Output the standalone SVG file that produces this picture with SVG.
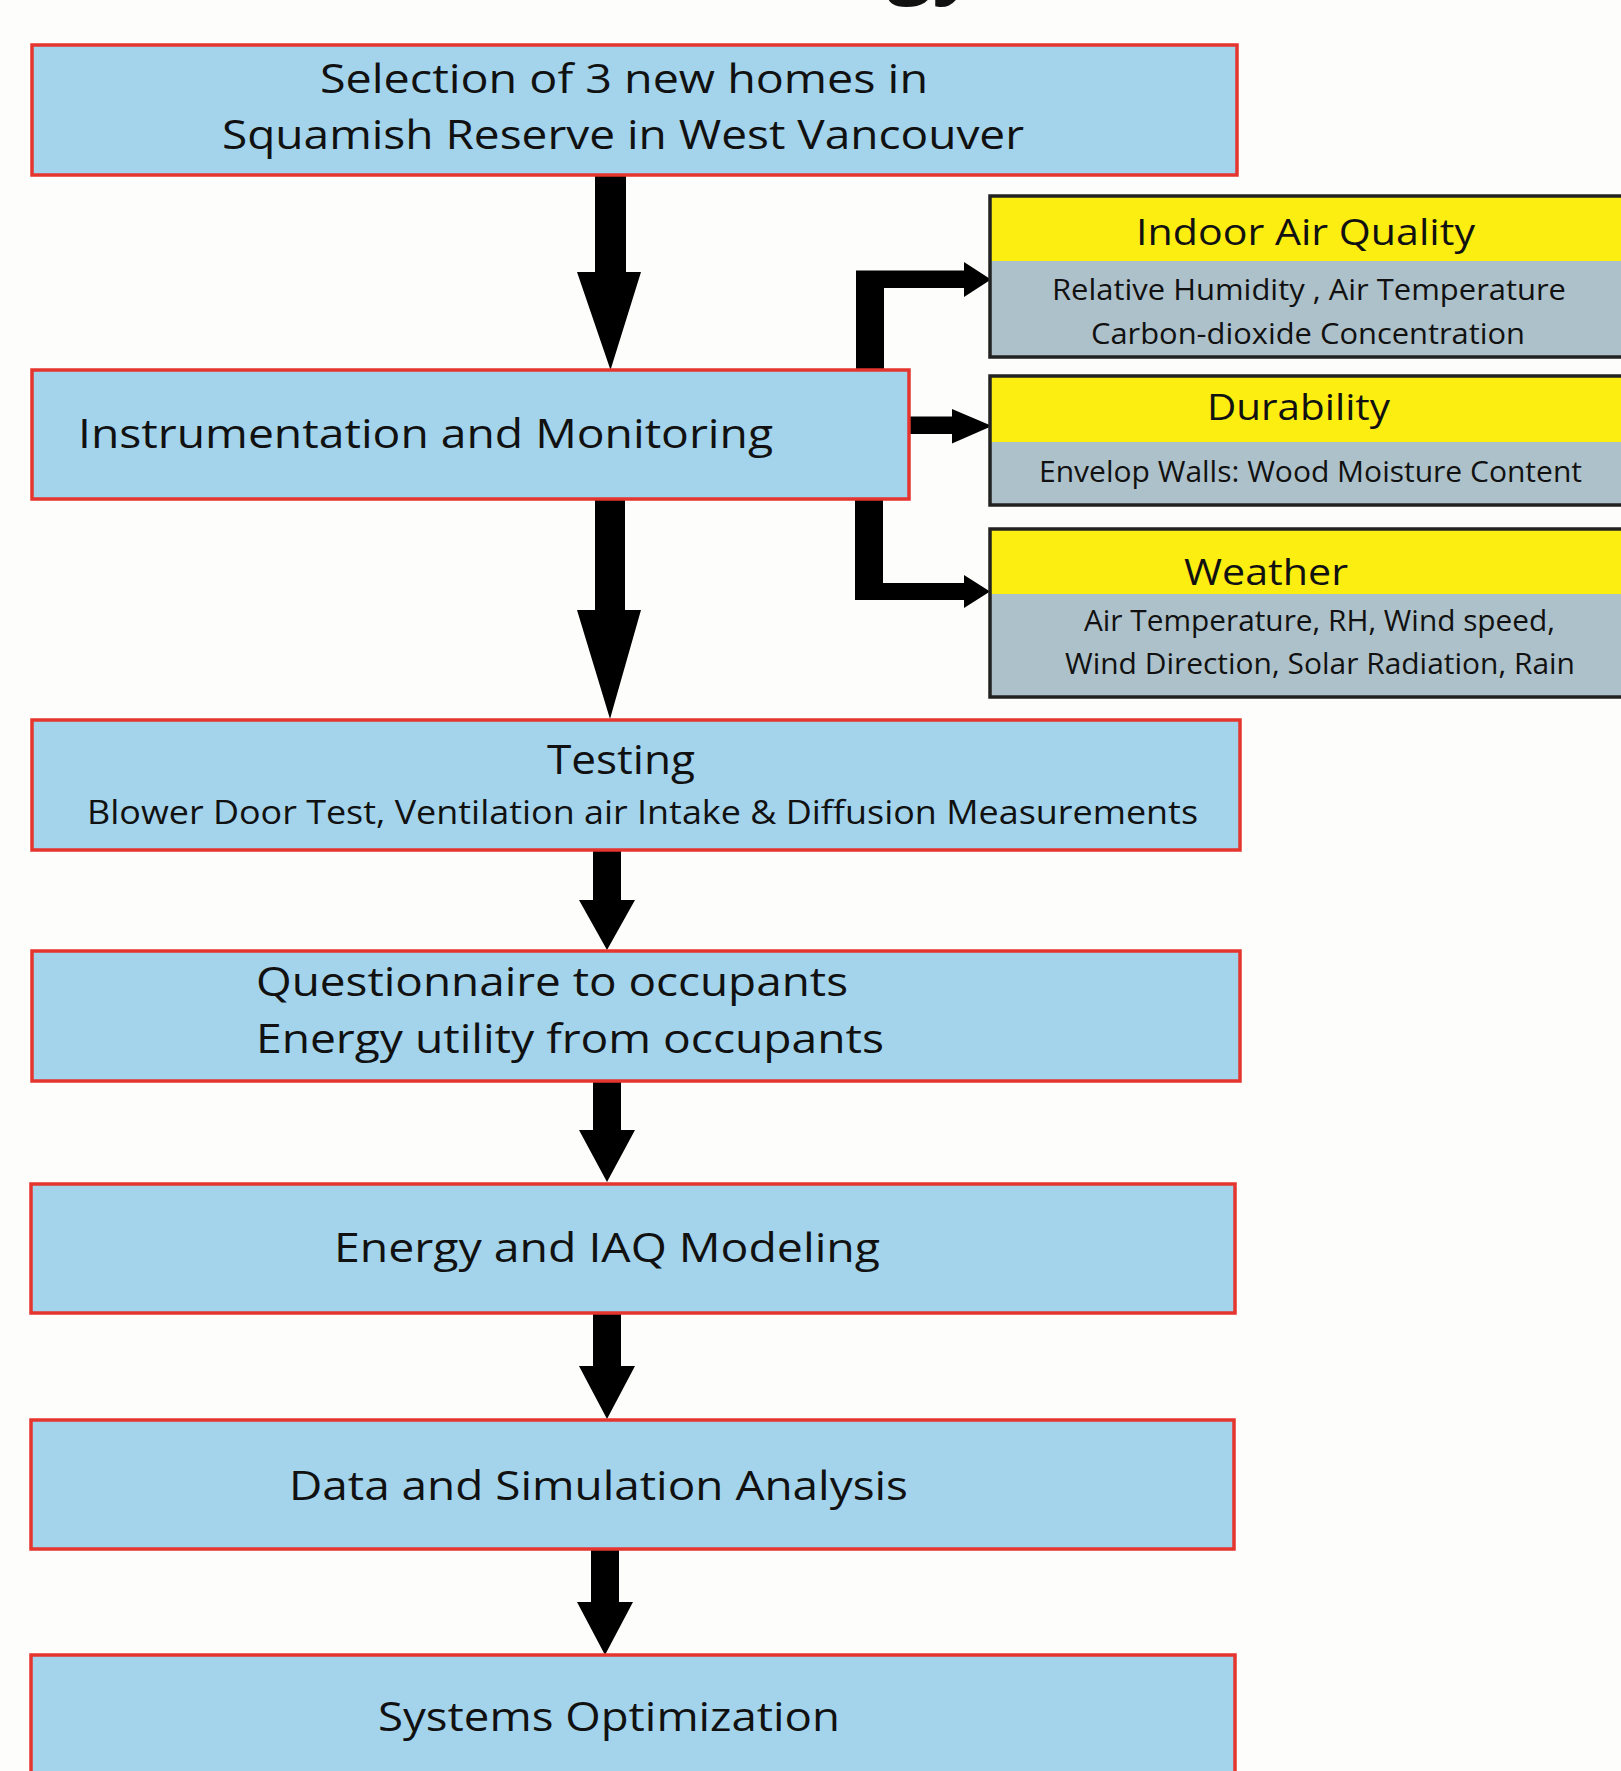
<svg xmlns="http://www.w3.org/2000/svg" width="1621" height="1771" viewBox="0 0 1621 1771">
<style>
.main{fill:#a3d4ec;stroke:#e5352f;stroke-width:3.5}
.head{fill:#fcee10}
.sub{fill:#adc1ca}
.frame{fill:none;stroke:#222;stroke-width:3.5}
text{font-family:"Open Sans","Liberation Sans",sans-serif;fill:#111}
.t40{font-size:40px}
.t36{font-size:36px}
.t30{font-size:30px}
.t32{font-size:32px}
.arrow{fill:#000}
</style>
<rect x="0" y="0" width="1621" height="1771" fill="#fdfdfb"/>
<text x="978" y="-12" text-anchor="end" style="font-size:80px;font-weight:bold">Methodology</text>

<g id="connectors">
  <polygon class="arrow" points="595,175 626,175 626,272 641,272 610.5,370 577,272 595,272"/>
  <polygon class="arrow" points="595,499 625,499 625,610 641,610 610,719 577,610 595,610"/>
  <polygon class="arrow" points="593,850 621,850 621,900 635,900 607,950 579,900 593,900"/>
  <polygon class="arrow" points="593,1081 621,1081 621,1130 635,1130 607,1182 579,1130 593,1130"/>
  <polygon class="arrow" points="593,1313 621,1313 621,1366 635,1366 607,1419 579,1366 593,1366"/>
  <polygon class="arrow" points="591,1549 619,1549 619,1602 633,1602 605,1655 577,1602 591,1602"/>
  <polygon class="arrow" points="856,370 856,270.5 964,270.5 964,262 991,279.5 964,297 964,288 884,288 884,370"/>
  <polygon class="arrow" points="909,416.5 952,416.5 952,409 992,426 952,443.5 952,434 909,434"/>
  <polygon class="arrow" points="855,499 883,499 883,583 964,583 964,575 990,591.5 964,608 964,600 855,600"/>
</g>

<g id="selection">
  <rect class="main" x="32" y="45" width="1205" height="130"/>
  <text class="t40" x="320" y="93" textLength="608" lengthAdjust="spacingAndGlyphs">Selection of 3 new homes in</text>
  <text class="t40" x="222" y="149" textLength="802" lengthAdjust="spacingAndGlyphs">Squamish Reserve in West Vancouver</text>
</g>

<g id="instrumentation">
  <rect class="main" x="32" y="370" width="877" height="129"/>
  <text class="t40" x="78" y="448" textLength="695" lengthAdjust="spacingAndGlyphs">Instrumentation and Monitoring</text>
</g>

<g id="iaq">
  <rect class="head" x="990" y="196" width="650" height="65"/>
  <rect class="sub" x="990" y="261" width="650" height="96"/>
  <rect class="frame" x="990" y="196" width="650" height="161"/>
  <text class="t36" x="1136" y="245" textLength="339" lengthAdjust="spacingAndGlyphs">Indoor Air Quality</text>
  <text class="t30" x="1052" y="300" textLength="514" lengthAdjust="spacingAndGlyphs">Relative Humidity , Air Temperature</text>
  <text class="t30" x="1091" y="344" textLength="434" lengthAdjust="spacingAndGlyphs">Carbon-dioxide Concentration</text>
</g>

<g id="durability">
  <rect class="head" x="990" y="376" width="650" height="66"/>
  <rect class="sub" x="990" y="442" width="650" height="63"/>
  <rect class="frame" x="990" y="376" width="650" height="129"/>
  <text class="t36" x="1207" y="420" textLength="183" lengthAdjust="spacingAndGlyphs">Durability</text>
  <text class="t30" x="1039" y="482" textLength="543" lengthAdjust="spacingAndGlyphs">Envelop Walls: Wood Moisture Content</text>
</g>

<g id="weather">
  <rect class="head" x="990" y="529" width="650" height="65"/>
  <rect class="sub" x="990" y="594" width="650" height="103"/>
  <rect class="frame" x="990" y="529" width="650" height="168"/>
  <text class="t36" x="1184" y="585" textLength="164" lengthAdjust="spacingAndGlyphs">Weather</text>
  <text class="t30" x="1084" y="631" textLength="471" lengthAdjust="spacingAndGlyphs">Air Temperature, RH, Wind speed,</text>
  <text class="t30" x="1065" y="674" textLength="510" lengthAdjust="spacingAndGlyphs">Wind Direction, Solar Radiation, Rain</text>
</g>

<g id="testing">
  <rect class="main" x="32" y="720" width="1208" height="130"/>
  <text class="t40" x="547" y="774" textLength="148" lengthAdjust="spacingAndGlyphs">Testing</text>
  <text class="t32" x="87" y="824" textLength="1111" lengthAdjust="spacingAndGlyphs">Blower Door Test, Ventilation air Intake &amp; Diffusion Measurements</text>
</g>

<g id="questionnaire">
  <rect class="main" x="32" y="951" width="1208" height="130"/>
  <text class="t40" x="256" y="996" textLength="592" lengthAdjust="spacingAndGlyphs">Questionnaire to occupants</text>
  <text class="t40" x="256" y="1053" textLength="628" lengthAdjust="spacingAndGlyphs">Energy utility from occupants</text>
</g>

<g id="modeling">
  <rect class="main" x="31" y="1184" width="1204" height="129"/>
  <text class="t40" x="334" y="1262" textLength="546" lengthAdjust="spacingAndGlyphs">Energy and IAQ Modeling</text>
</g>

<g id="analysis">
  <rect class="main" x="31" y="1420" width="1203" height="129"/>
  <text class="t40" x="289" y="1500" textLength="619" lengthAdjust="spacingAndGlyphs">Data and Simulation Analysis</text>
</g>

<g id="optimization">
  <rect class="main" x="31" y="1655" width="1204" height="140"/>
  <text class="t40" x="378" y="1731" textLength="462" lengthAdjust="spacingAndGlyphs">Systems Optimization</text>
</g>
</svg>
